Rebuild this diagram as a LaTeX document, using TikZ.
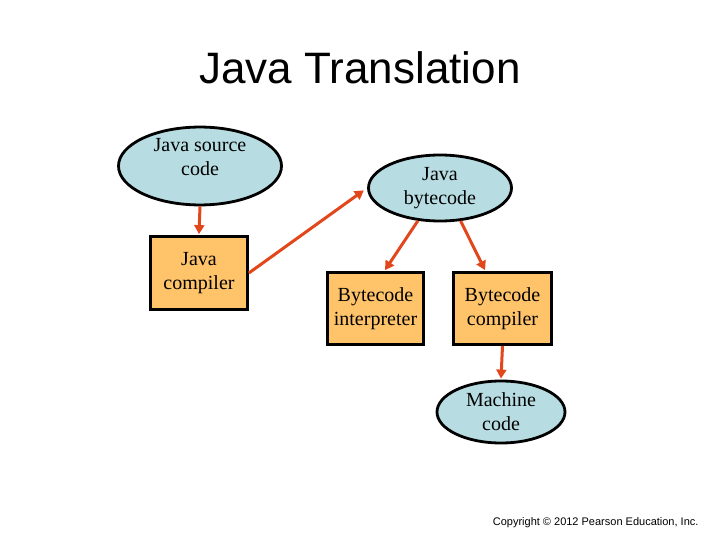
\documentclass[tikz,border=0pt]{standalone}
\usepackage{fontspec}
\setmainfont{Liberation Serif}
\newfontfamily\arialf{Liberation Sans}
\usetikzlibrary{shapes.geometric,arrows.meta,calc}
\definecolor{ellfill}{HTML}{B7DDE3}
\definecolor{boxfill}{HTML}{FFC46A}
\definecolor{arrowc}{HTML}{E2471C}
\begin{document}
\begin{tikzpicture}[x=1pt,y=-1pt,
  ell/.style={ellipse,draw=black,line width=2.8pt,fill=ellfill,inner sep=0pt,align=center,
    font=\fontsize{20}{24}\selectfont},
  boxn/.style={rectangle,draw=black,line width=2.8pt,fill=boxfill,inner sep=0pt,align=center,
    font=\fontsize{20}{24}\selectfont},
  conn/.style={draw=arrowc,line width=3pt,-{Triangle[length=9pt,width=10pt]}}]
\useasboundingbox (0,0) rectangle (720,540);
\node[font=\arialf\fontsize{44}{50}\selectfont,anchor=base] (title) at (360,84) {Java Translation};
\node[ell,minimum width=163pt,minimum height=77pt] (jsc) at (200,166) {Java source\\code\\[-6pt]};
\node[boxn,minimum width=97pt,minimum height=73pt] (jc) at (199,273) {Java\\compiler};
\node[ell,minimum width=143pt,minimum height=66pt] (bc) at (440,188) {Java\\bytecode};
\node[boxn,minimum width=96pt,minimum height=72pt] (bi) at (375.5,308.5) {Bytecode\\interpreter};
\node[boxn,minimum width=98pt,minimum height=72pt] (bcomp) at (502.5,308.5) {Bytecode\\compiler};
\node[ell,minimum width=128pt,minimum height=62pt] (mc) at (501,412) {Machine\\code};
\node[font=\arialf\fontsize{11}{13}\selectfont,anchor=base east] (copy) at (702,525) {Copyright \textcopyright\ 2012 Pearson Education, Inc.};
\coordinate (bibt) at ($(bi.north)+(9.5,-1)$);
\coordinate (bcbt) at ($(bcomp.north)+(-17.5,-1)$);
\draw[conn] (jsc.south) -- ($(jc.north)+(0,-1)$);
\draw[conn,shorten >=4pt] (jc.east) -- (bc.west);
\draw[conn] (bc.236) -- (bibt);
\draw[conn] (bc.302) -- (bcbt);
\draw[conn] (bcomp.south) -- ($(mc.north)+(0,-1)$);
\end{tikzpicture}
\end{document}
